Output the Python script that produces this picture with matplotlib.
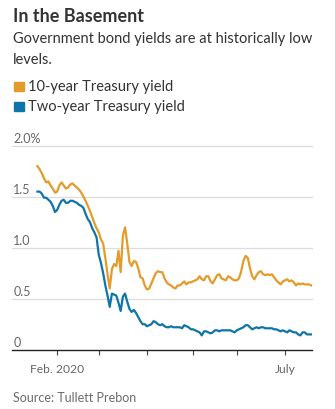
import numpy as np
import pandas as pd
import matplotlib
matplotlib.use("Agg")
import matplotlib.pyplot as plt
import matplotlib.transforms as mtrans
from matplotlib.patches import Rectangle

# ---------------- data ----------------
holidays = ["2020-02-17", "2020-04-10", "2020-05-25", "2020-07-03"]
dates = [d for d in pd.bdate_range("2020-01-21", "2020-07-20")
         if d.strftime("%Y-%m-%d") not in holidays]

ten_year = [
    1.80, 1.77, 1.73, 1.68, 1.64, 1.65, 1.61, 1.58, 1.54, 1.55,
    1.61, 1.64, 1.61, 1.58, 1.59, 1.62, 1.63, 1.61, 1.59, 1.57,
    1.54, 1.50, 1.46, 1.41, 1.36, 1.30, 1.24, 1.19, 1.15, 1.08,
    1.04, 0.90, 0.74, 0.60, 0.79, 0.84, 0.82, 0.97, 0.76, 1.12,
    1.20, 1.04, 0.86, 0.82, 0.87, 0.86, 0.80, 0.71, 0.70, 0.63,
    0.59, 0.60, 0.65, 0.70, 0.75, 0.77, 0.76, 0.76, 0.70, 0.66,
    0.64, 0.63, 0.61, 0.60, 0.63, 0.63, 0.65, 0.67, 0.64, 0.66,
    0.66, 0.67, 0.68, 0.69, 0.72, 0.69, 0.68, 0.72, 0.72, 0.67,
    0.65, 0.69, 0.73, 0.74, 0.70, 0.69, 0.68, 0.72, 0.71, 0.69,
    0.68, 0.68, 0.70, 0.77, 0.87, 0.92, 0.90, 0.80, 0.72, 0.69,
    0.73, 0.76, 0.77, 0.74, 0.73, 0.74, 0.73, 0.74, 0.71, 0.68,
    0.66, 0.64, 0.67, 0.68, 0.69, 0.67, 0.68, 0.66, 0.63, 0.65,
    0.64, 0.65, 0.64, 0.64, 0.64, 0.63,
]
two_year = [
    1.55, 1.55, 1.53, 1.49, 1.49, 1.47, 1.45, 1.41, 1.35, 1.37,
    1.42, 1.46, 1.47, 1.44, 1.44, 1.46, 1.46, 1.45, 1.44, 1.42,
    1.41, 1.39, 1.33, 1.28, 1.25, 1.19, 1.15, 1.10, 0.93, 0.85,
    0.75, 0.63, 0.53, 0.42, 0.55, 0.54, 0.53, 0.46, 0.38, 0.52,
    0.55, 0.47, 0.40, 0.37, 0.39, 0.36, 0.32, 0.28, 0.25, 0.25,
    0.23, 0.24, 0.25, 0.28, 0.27, 0.25, 0.24, 0.25, 0.23, 0.22,
    0.22, 0.23, 0.22, 0.22, 0.22, 0.22, 0.21, 0.24, 0.23, 0.22,
    0.20, 0.20, 0.19, 0.18, 0.17, 0.14, 0.18, 0.18, 0.17, 0.16,
    0.17, 0.19, 0.19, 0.18, 0.19, 0.19, 0.19, 0.19, 0.19, 0.18,
    0.17, 0.19, 0.20, 0.21, 0.22, 0.24, 0.24, 0.22, 0.20, 0.21,
    0.22, 0.21, 0.22, 0.22, 0.21, 0.21, 0.21, 0.21, 0.20, 0.20,
    0.19, 0.18, 0.19, 0.18, 0.17, 0.19, 0.18, 0.17, 0.17, 0.15,
    0.14, 0.17, 0.17, 0.15, 0.15, 0.15,
]
series_names = ["10-year Treasury yield", "Two-year Treasury yield"]
y_ticks = [0, 0.5, 1.0, 1.5, 2.0]
y_tick_labels = ["0", "0.5", "1.0", "1.5", "2.0%"]
tick_months = ["2020-02", "2020-03", "2020-04", "2020-05", "2020-06", "2020-07"]
x_tick_labels = {"2020-02": "Feb. 2020", "2020-07": "July"}

title = "In the Basement"
subtitle = "Government bond yields are at historically low\nlevels."
source = "Source: Tullett Prebon"

# ---------------- style ----------------
ORANGE = "#E39B2C"
BLUE = "#0F75A8"
TXT = "#333333"
GRAY = "#666666"
GRID = "#DDDDDD"
FONT = "Lato"

W, H = 335, 410
fig = plt.figure(figsize=(W / 100, H / 100), dpi=100)
fig.patch.set_facecolor("white")

def fx(px):
    return px / W

def fy(py):
    return 1 - py / H

ax_l, ax_r = 12, 312
ax_b, ax_t = 350.7, 146.7
ax = fig.add_axes([fx(ax_l), fy(ax_b), fx(ax_r - ax_l), (ax_b - ax_t) / H])
ax.set_facecolor("none")

x = np.arange(len(dates))
ax.set_xlim(-11.6, len(dates) - 1 + 0.3)
ax.set_ylim(0, 2.0)

for v in y_ticks[1:]:
    ax.axhline(v, color=GRID, lw=0.9, zorder=0, clip_on=False)

ax.plot(x, ten_year, color=ORANGE, lw=1.6, solid_joinstyle="round", zorder=3)
ax.plot(x, two_year, color=BLUE, lw=1.6, solid_joinstyle="round", zorder=3)

for s in ["top", "right", "left"]:
    ax.spines[s].set_visible(False)
ax.spines["bottom"].set_color("#222222")
ax.spines["bottom"].set_linewidth(1.0)
ax.set_yticks([])

month_keys = [d.strftime("%Y-%m") for d in dates]
tick_pos = [month_keys.index(m) for m in tick_months]
ax.set_xticks(tick_pos)
ax.set_xticklabels([x_tick_labels.get(m, "") for m in tick_months],
                   fontsize=8.7, color=GRAY, family=FONT)
ax.tick_params(axis="x", length=3.5, width=0.8, color="#444444", pad=6)

trans = mtrans.blended_transform_factory(ax.transAxes, ax.transData)
off = mtrans.offset_copy(trans, fig=fig, x=1.0, y=1.5, units="points")
for v, lab in zip(y_ticks, y_tick_labels):
    ax.text(0.0, v, lab, transform=off, ha="left", va="bottom",
            fontsize=9, color=GRAY, family=FONT)

# ---------------- header texts ----------------
fig.text(fx(13), fy(17), title, fontsize=13, fontweight="bold",
         color=TXT, family=FONT, va="center", ha="left")
fig.text(fx(13), fy(39), subtitle.split("\n")[0], fontsize=10.5,
         color=TXT, family=FONT, va="center", ha="left")
fig.text(fx(13), fy(60), subtitle.split("\n")[1], fontsize=10.5,
         color=TXT, family=FONT, va="center", ha="left")

for i, (name, col) in enumerate(zip(series_names, [ORANGE, BLUE])):
    yc = 87.5 + i * 20
    fig.patches.append(Rectangle((fx(14), fy(yc + 4.5)), fx(9.5), 9.5 / H,
                                 transform=fig.transFigure, color=col,
                                 figure=fig))
    fig.text(fx(28), fy(yc), name, fontsize=10.5, color=TXT, family=FONT,
             va="center", ha="left")

fig.text(fx(13), fy(398), source, fontsize=9, color="#6b6b6b", family=FONT,
         va="center", ha="left")

fig.savefig("out.png", dpi=100, facecolor="white")
